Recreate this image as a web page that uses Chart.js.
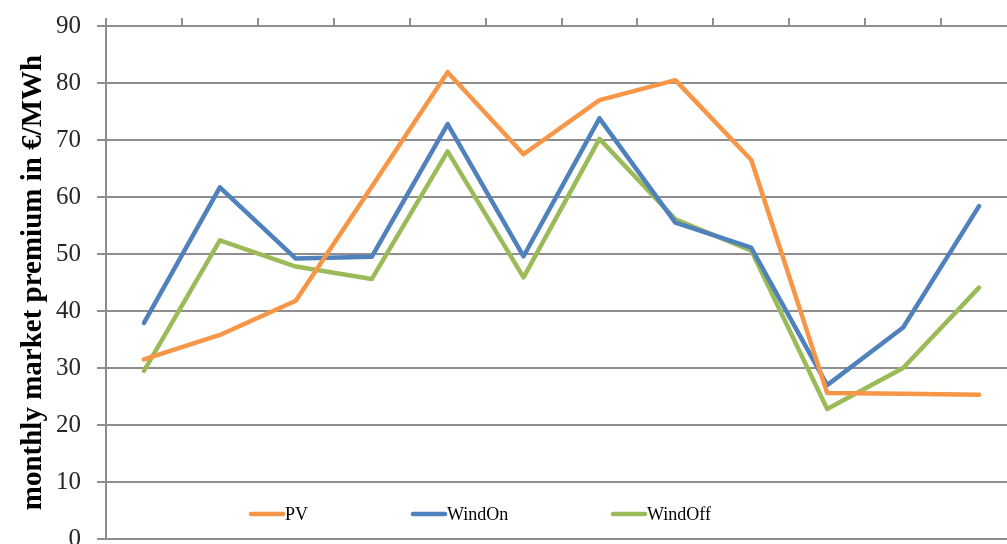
<!DOCTYPE html>
<html>
<head>
<meta charset="utf-8">
<script src="https://cdn.jsdelivr.net/npm/chart.js@4"></script>
<style>
  html, body { margin: 0; padding: 0; background: #fff; overflow: hidden; }
  #wrap { width: 1007px; height: 544px; overflow: hidden; position: relative; }
  canvas { position: absolute; left: 0; top: -5px; }
</style>
</head>
<body>
<div id="wrap"><canvas id="premiumChart" width="1020" height="575"></canvas></div>
<script>
const months = ["Jan", "Feb", "Mar", "Apr", "May", "Jun", "Jul", "Aug", "Sep", "Oct", "Nov", "Dec"];
const pvValues = [31.5, 35.8, 41.8, 61.8, 81.9, 67.5, 77.0, 80.5, 66.5, 25.6, 25.5, 25.3];
const windOnValues = [37.9, 61.7, 49.2, 49.5, 72.8, 49.6, 73.8, 55.5, 51.1, 27.0, 37.1, 58.4];
const windOffValues = [29.5, 52.4, 47.8, 45.6, 68.0, 45.9, 70.2, 56.1, 50.6, 22.8, 30.0, 44.1];
const yTicks = [0, 10, 20, 30, 40, 50, 60, 70, 80, 90];

const gridGray = "#8e8e8e";
const serif = "'Liberation Serif', 'Times New Roman', serif";

// legend sits inside the plot, near the bottom
const legendInside = {
  id: "legendInside",
  afterDraw(chart) {
    const ctx = chart.ctx;
    const slots = [249, 411, 611];
    const y = chart.chartArea.bottom - 25;
    ctx.save();
    chart.data.datasets.forEach((ds, i) => {
      const x = slots[i];
      ctx.strokeStyle = ds.borderColor;
      ctx.lineWidth = 4.5;
      ctx.lineCap = "round";
      ctx.beginPath();
      ctx.moveTo(x + 2, y);
      ctx.lineTo(x + 34, y);
      ctx.stroke();
      ctx.fillStyle = "#000";
      ctx.font = "18px " + serif;
      ctx.textBaseline = "middle";
      ctx.textAlign = "left";
      ctx.fillText(ds.label, x + 36, y + 1);
    });
    ctx.restore();
  }
};

new Chart("premiumChart", {
  type: "line",
  data: {
    labels: months,
    datasets: [
      { label: "PV", data: pvValues, borderColor: "#f79646" },
      { label: "WindOn", data: windOnValues, borderColor: "#4f81bd" },
      { label: "WindOff", data: windOffValues, borderColor: "#9bbb59" }
    ]
  },
  options: {
    responsive: false,
    animation: false,
    devicePixelRatio: 1,
    layout: { padding: { left: 0, top: 0, right: 3, bottom: 21 } },
    elements: {
      line: { borderWidth: 4.5, tension: 0, borderCapStyle: "round", borderJoinStyle: "round" },
      point: { radius: 0, hoverRadius: 0 }
    },
    plugins: {
      legend: { display: false },
      tooltip: { enabled: false }
    },
    scales: {
      x: {
        position: "top",
        offset: true,
        grid: {
          offset: true,
          drawOnChartArea: false,
          drawTicks: true,
          tickLength: 8,
          color: gridGray,
          lineWidth: 2
        },
        border: { display: true, color: gridGray, width: 2 },
        ticks: { display: false },
        afterFit(scale) { scale.height = 24; }
      },
      y: {
        min: 0,
        max: 90,
        afterBuildTicks(scale) { scale.ticks = yTicks.map(v => ({ value: v })); },
        grid: {
          color: gridGray,
          lineWidth: 2,
          tickLength: 9,
          drawTicks: true
        },
        border: { display: true, color: gridGray, width: 2 },
        ticks: {
          padding: 16,
          color: "#262626",
          font: { family: serif, size: 25 }
        },
        title: {
          display: true,
          text: "monthly market premium in €/MWh",
          color: "#000",
          padding: { top: 16, bottom: 0 },
          font: { family: serif, size: 29, weight: "bold" }
        },
        afterFit(scale) { scale.width = 106; }
      }
    }
  },
  plugins: [legendInside]
});
</script>
</body>
</html>
